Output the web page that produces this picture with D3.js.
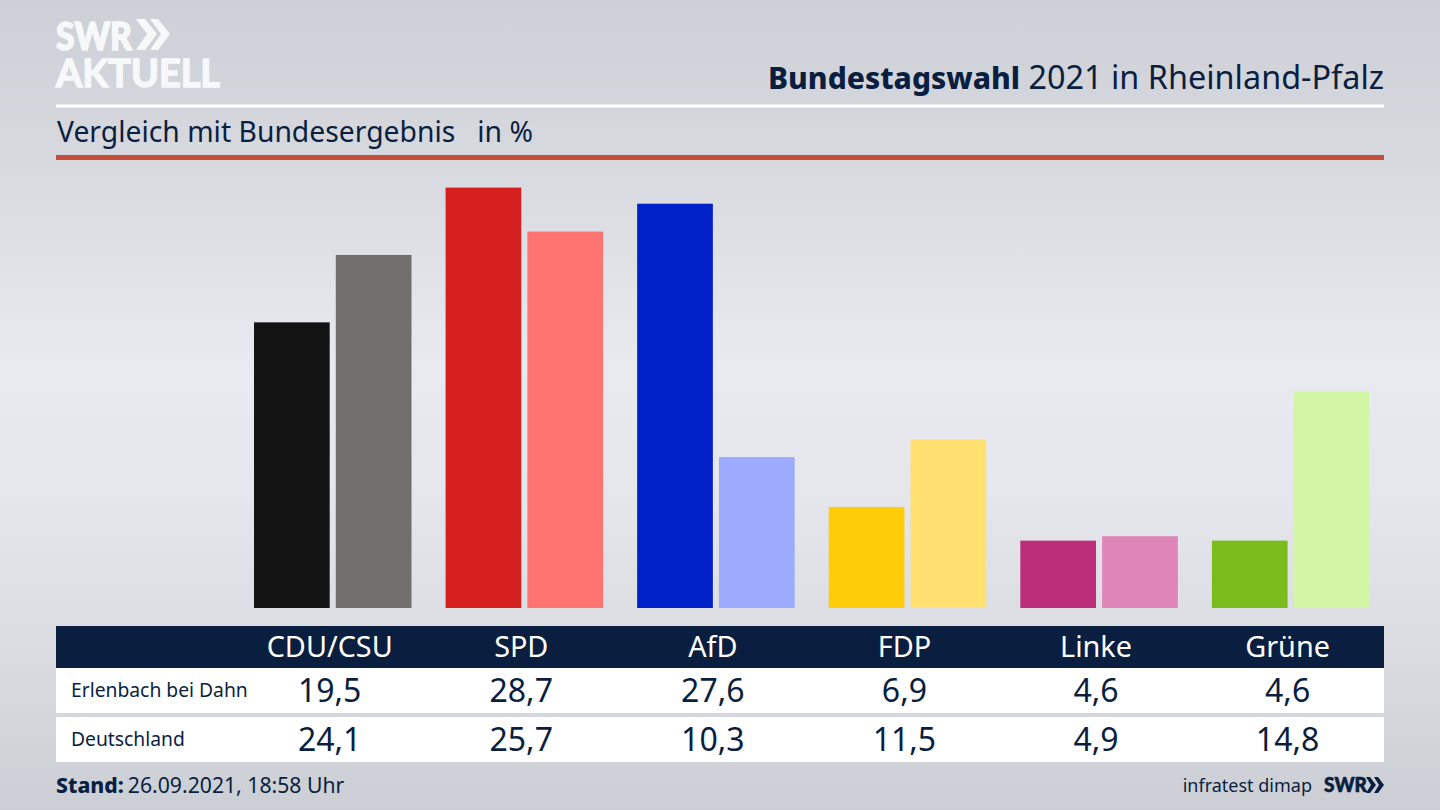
<!DOCTYPE html>
<html><head><meta charset="utf-8">
<script src="https://cdn.jsdelivr.net/npm/d3@7"></script>
<style>html,body{margin:0;padding:0;background:#d5d8de;overflow:hidden}svg{display:block}text{font-family:"Noto Sans",sans-serif}</style>
</head><body><svg id="c" width="1440" height="810"></svg>
<script>
const parties = ["CDU/CSU","SPD","AfD","FDP","Linke","Grüne"];
const seriesNames = ["Erlenbach bei Dahn","Deutschland"];
const erlenbach = [19.5,28.7,27.6,6.9,4.6,4.6];
const deutschland = [24.1,25.7,10.3,11.5,4.9,14.8];
const colorsDark = ["#141414","#d61f1f","#0021c8","#ffcc0a","#bc2e78","#79bc1c"];
const colorsLight = ["#706f6d","#ff7370","#9dabff","#ffe070","#e085b8","#d2f5a6"];
const labelsE = ["19,5","28,7","27,6","6,9","4,6","4,6"];
const labelsD = ["24,1","25,7","10,3","11,5","4,9","14,8"];

const navy = "#0a1f3f";
const svg = d3.select("#c");
const defs = svg.append("defs");
const g = defs.append("linearGradient").attr("id","bg").attr("x1",0).attr("x2",0).attr("y1",0).attr("y2",1);
[[0,"#cdd0d6"],[0.2,"#d7d9df"],[0.45,"#e9eaef"],[0.6,"#e6e7ec"],[0.8,"#dadce1"],[1,"#cbced4"]]
  .forEach(([o,c])=>g.append("stop").attr("offset",o).attr("stop-color",c));
svg.append("rect").attr("width",1440).attr("height",810).attr("fill","url(#bg)");

// Logo
const logo = svg.append("g").attr("fill","#f7f8f9").attr("stroke","#f7f8f9");
logo.append("text").attr("x",56).attr("y",50).attr("font-size",37).attr("font-weight",900).attr("stroke-width",1.4).attr("textLength",76).attr("lengthAdjust","spacingAndGlyphs").style("font-family","Lato").text("SWR");
logo.append("path").attr("stroke","none").attr("d","M136 19h9l12 15-12 16h-9l11-16zM150 19h8l12 15-12 16h-8l11-16z");
logo.append("text").attr("x",56).attr("y",87).attr("font-size",38).attr("font-weight",700).attr("stroke-width",1.4).attr("textLength",164).attr("lengthAdjust","spacingAndGlyphs").style("font-family","Lato").text("AKTUELL");

// Header
const title = svg.append("text").attr("x",1384).attr("y",89).attr("text-anchor","end").attr("font-size",32.4).attr("fill",navy);
title.append("tspan").attr("font-weight",800).attr("font-size",30).text("Bundestagswahl");
title.append("tspan").text(" 2021 in Rheinland-Pfalz");
svg.append("rect").attr("x",56).attr("y",104.5).attr("width",1328).attr("height",3).attr("fill","#fff");
svg.append("text").attr("x",57).attr("y",142).attr("font-size",28.3).attr("fill",navy).attr("xml:space","preserve").text("Vergleich mit Bundesergebnis   in %");
svg.append("rect").attr("x",56).attr("y",155).attr("width",1328).attr("height",5).attr("fill","#c64f3c");

// Scales
const x0 = d3.scaleBand().domain(parties).range([254,1369]).paddingInner(0.18).paddingOuter(0);
const x1 = d3.scaleBand().domain(seriesNames).range([0,x0.bandwidth()]).paddingInner(0.07).paddingOuter(0);
const y = d3.scaleLinear().domain([0,28.7]).range([608,187.6]);
const cx = p => x0(p)+x1.bandwidth();

const groups = svg.selectAll("g.grp").data(parties).join("g").attr("class","grp").attr("transform",p=>`translate(${x0(p)},0)`);
groups.append("rect").attr("x",x1(seriesNames[0])).attr("width",x1.bandwidth())
  .attr("y",(p,i)=>y(erlenbach[i])).attr("height",(p,i)=>y(0)-y(erlenbach[i])).attr("fill",(p,i)=>colorsDark[i]);
groups.append("rect").attr("x",x1(seriesNames[1])+0.4).attr("width",x1.bandwidth())
  .attr("y",(p,i)=>y(deutschland[i])).attr("height",(p,i)=>y(0)-y(deutschland[i])).attr("fill",(p,i)=>colorsLight[i]);

// Table
svg.append("rect").attr("x",56).attr("y",626).attr("width",1328).attr("height",42).attr("fill",navy);
svg.append("rect").attr("x",56).attr("y",668).attr("width",1328).attr("height",45).attr("fill","#fff");
svg.append("rect").attr("x",56).attr("y",717).attr("width",1328).attr("height",45).attr("fill","#fff");
svg.selectAll("text.hd").data(parties).join("text").attr("class","hd").attr("x",cx).attr("y",656.5).attr("text-anchor","middle").attr("font-size",28.8).attr("fill","#fff").text(d=>d);
svg.selectAll("text.e").data(labelsE).join("text").attr("class","e").attr("x",(d,i)=>cx(parties[i])).attr("y",702).attr("text-anchor","middle").attr("font-size",32).attr("fill",navy).text(d=>d);
svg.selectAll("text.d").data(labelsD).join("text").attr("class","d").attr("x",(d,i)=>cx(parties[i])).attr("y",751).attr("text-anchor","middle").attr("font-size",32).attr("fill",navy).text(d=>d);
svg.append("text").attr("x",71).attr("y",697).attr("font-size",19.3).attr("fill",navy).text(seriesNames[0]);
svg.append("text").attr("x",71).attr("y",746).attr("font-size",19.3).attr("fill",navy).text(seriesNames[1]);

// Footer
const st = svg.append("text").attr("x",56).attr("y",793).attr("font-size",21.2).attr("fill",navy);
st.append("tspan").attr("font-weight",800).text("Stand:");
st.append("tspan").attr("dx",4).text("26.09.2021, 18:58 Uhr");
svg.append("text").attr("x",1312).attr("y",792).attr("text-anchor","end").attr("font-size",18).attr("fill",navy).text("infratest dimap");
svg.append("text").attr("x",1324).attr("y",792).attr("font-size",20).attr("font-weight",900).attr("fill",navy).attr("stroke",navy).attr("stroke-width",0.6).style("font-family","Lato").attr("textLength",43).attr("lengthAdjust","spacingAndGlyphs").text("SWR");
svg.append("path").attr("fill",navy).attr("d","M1366 777h4l6 8-6 8h-4l5-8zM1374 777h4l6 8-6 8h-4l5-8z");
</script></body></html>
